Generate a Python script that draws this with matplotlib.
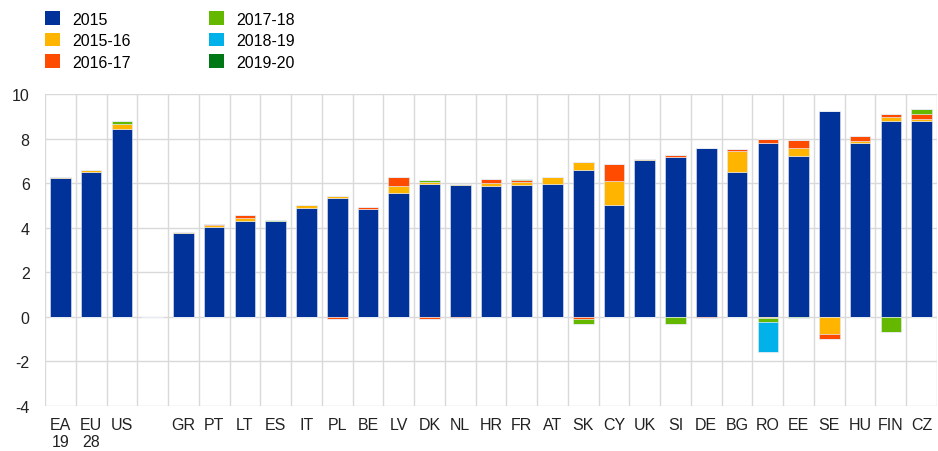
import numpy as np
import matplotlib
matplotlib.use("Agg")
import matplotlib.pyplot as plt
from matplotlib.patches import Patch

plt.rcParams['font.family'] = ['Liberation Sans', 'DejaVu Sans']
plt.rcParams['axes.unicode_minus'] = False

# categories (empty slot separates aggregates from countries)
labels = ["EA\n19", "EU\n28", "US", "", "GR", "PT", "LT", "ES", "IT", "PL", "BE", "LV",
          "DK", "NL", "HR", "FR", "AT", "SK", "CY", "UK", "SI", "DE", "BG", "RO",
          "EE", "SE", "HU", "FIN", "CZ"]

v2015 = [6.22, 6.48, 8.42, 0, 3.76, 4.05, 4.28, 4.28, 4.90, 5.33, 4.82, 5.57,
         5.95, 5.93, 5.87, 5.90, 5.98, 6.58, 5.00, 7.04, 7.16, 7.56, 6.52, 7.80,
         7.21, 9.23, 7.80, 8.78, 8.78]
v2015_16 = [0.07, 0.10, 0.22, 0, 0.05, 0.08, 0.17, 0.03, 0.13, 0.10, 0.0, 0.32,
            0.10, 0.04, 0.15, 0.15, 0.30, 0.37, 1.11, 0.05, 0.03, 0.03, 0.94, -0.07,
            0.36, -0.78, 0.11, 0.17, 0.08]
v2016_17 = [0.0, 0.02, 0.0, 0, 0.0, 0.05, 0.12, 0.0, 0.0, -0.08, 0.13, 0.37,
            -0.10, -0.04, 0.17, 0.08, 0.0, -0.10, 0.74, 0.0, 0.06, -0.04, 0.08, 0.20,
            0.36, -0.22, 0.20, 0.15, 0.23]
v2017_18 = [0.0, 0.0, 0.13, 0, 0.0, 0.0, 0.0, 0.03, 0.0, 0.0, 0.0, 0.0,
            0.07, 0.0, 0.0, 0.06, 0.0, -0.24, 0.0, 0.0, -0.30, 0.0, 0.0, -0.14,
            -0.03, 0.0, 0.0, -0.66, 0.25]
v2018_19 = [0.0, 0.0, 0.0, 0, 0.0, 0.0, 0.0, 0.0, 0.0, 0.0, 0.0, 0.0,
            0.0, 0.0, 0.0, 0.0, 0.0, 0.0, 0.0, 0.0, 0.0, 0.0, 0.0, -1.37,
            0.0, 0.0, 0.0, 0.0, 0.0]
v2019_20 = [0.0] * len(labels)

series = [("2015", v2015, "#003299"),
          ("2015-16", v2015_16, "#ffb400"),
          ("2016-17", v2016_17, "#ff4b00"),
          ("2017-18", v2017_18, "#65b800"),
          ("2018-19", v2018_19, "#00b1ea"),
          ("2019-20", v2019_20, "#007816")]

fig = plt.figure(figsize=(9.38, 4.52), dpi=100)
ax = fig.add_axes([45 / 938, 45 / 452, 892 / 938, 312 / 452])

x = np.arange(len(labels))
pos_base = np.zeros(len(labels))
neg_base = np.zeros(len(labels))
for name, vals, color in series:
    vals = np.array(vals, dtype=float)
    pos = np.where(vals > 0, vals, 0)
    neg = np.where(vals < 0, vals, 0)
    ax.bar(x, pos, 0.67, bottom=pos_base, color=color, edgecolor="#e8ecf5",
           linewidth=0.4, zorder=3)
    ax.bar(x, neg, 0.67, bottom=neg_base, color=color, edgecolor="#e8ecf5",
           linewidth=0.4, zorder=3)
    pos_base += pos
    neg_base += neg

ax.set_xlim(-0.5, len(labels) - 0.5)
ax.set_ylim(-4, 10)
ax.set_yticks(np.arange(-4, 11, 2))
ax.set_xticks(x)
ax.set_xticklabels(labels, fontsize=11.5, color="#222222", linespacing=1.15,
                   va="top")
ax.tick_params(axis="y", labelsize=11.5, colors="#222222", length=0, pad=11)
ax.tick_params(axis="x", length=0, pad=8)

# gridlines: horizontal at ticks, vertical at slot boundaries
ax.set_xticks(np.arange(-0.5, len(labels), 1), minor=True)
ax.grid(axis="y", color="#d9d9d9", linewidth=1, zorder=0)
ax.grid(axis="x", which="minor", color="#d9d9d9", linewidth=1, zorder=0)
ax.grid(axis="x", which="major", visible=False)
ax.tick_params(axis="x", which="minor", length=0)
for s in ax.spines.values():
    s.set_visible(False)

handles = [Patch(facecolor=c, edgecolor="none") for _, _, c in series]
fig.legend(handles, [n for n, _, _ in series], ncol=2, loc="upper left",
           bbox_to_anchor=(31 / 938, 1 + 2 / 452), frameon=False, fontsize=11.5,
           handlelength=0.9, handleheight=0.9, handletextpad=0.8,
           columnspacing=4.9, labelspacing=0.4)

fig.savefig("out.png", dpi=100)
